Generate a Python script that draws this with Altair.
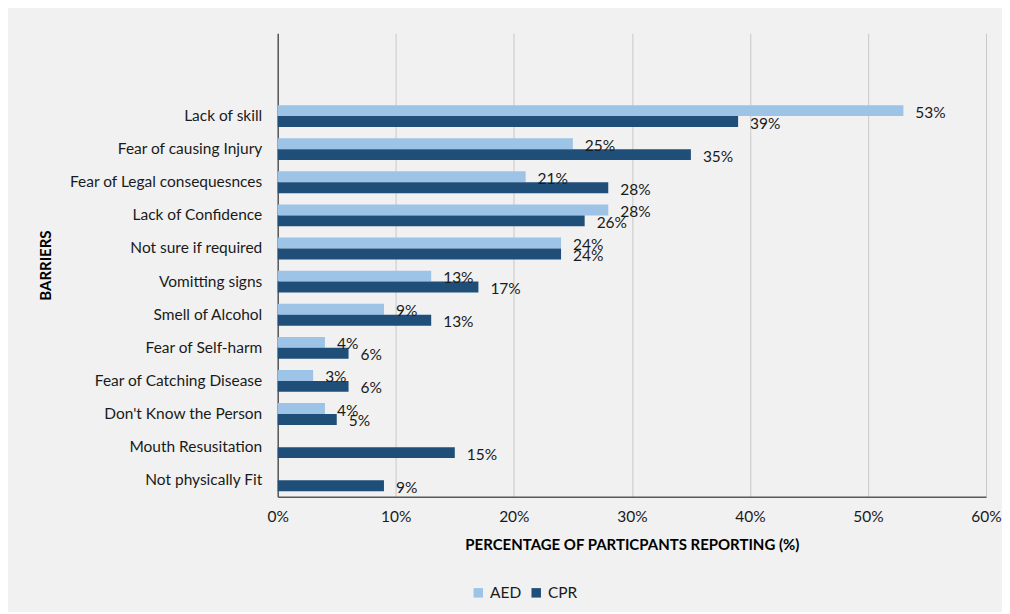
import altair as alt
import pandas as pd

categories = ["Lack of skill", "Fear of causing Injury", "Fear of Legal consequesnces",
              "Lack of Confidence", "Not sure if required", "Vomitting signs",
              "Smell of Alcohol", "Fear of Self-harm", "Fear of Catching Disease",
              "Don't Know the Person", "Mouth Resusitation", "Not physically Fit"]
aed = [53, 25, 21, 28, 24, 13, 9, 4, 3, 4, None, None]
cpr = [39, 35, 28, 26, 24, 17, 13, 6, 6, 5, 15, 9]
series = ["AED", "CPR"]
colors = ["#9DC3E6", "#1F4E79"]
x_ticks = [0, 0.1, 0.2, 0.3, 0.4, 0.5, 0.6]

rows = []
for c, a, p in zip(categories, aed, cpr):
    if a is not None:
        rows.append({"cat": c, "series": "AED", "v": a})
    rows.append({"cat": c, "series": "CPR", "v": p})
df = pd.DataFrame(rows)
df["pct"] = df["v"] / 100.0
df["label"] = df["v"].astype(int).astype(str) + "%"

FONT = "Lato"
FS = 15.5
domain = ["", " "] + categories

y_enc = alt.Y("cat:N",
              scale=alt.Scale(domain=domain, paddingInner=0.34, paddingOuter=0.17),
              axis=alt.Axis(title="BARRIERS", labelPadding=16, ticks=False,
                            domainColor="#595959", domainWidth=1.5, grid=False,
                            labelFontSize=FS, labelColor="#1a1a1a", labelLimit=300,
                            titleFontSize=15, titleFontWeight="bold", titleColor="#000000",
                            minExtent=210, maxExtent=210, titlePadding=14))
x_enc = alt.X("pct:Q",
              scale=alt.Scale(domain=[0, 0.6], nice=False),
              axis=alt.Axis(title="PERCENTAGE OF PARTICPANTS REPORTING (%)",
                            values=x_ticks, format=".0%", labelPadding=13, ticks=False,
                            labelFlush=False,
                            grid=True, gridColor="#c8c8c8", gridWidth=1,
                            domainColor="#595959", domainWidth=1.5,
                            labelFontSize=FS, labelColor="#1a1a1a",
                            titleFontSize=15, titleFontWeight="bold", titleColor="#000000",
                            titlePadding=12))
yoff = alt.YOffset("series:N", scale=alt.Scale(domain=series))
color = alt.Color("series:N",
                  scale=alt.Scale(domain=series, range=colors),
                  legend=alt.Legend(title=None, orient="none", direction="horizontal",
                                    legendX=193, legendY=552, symbolType="square",
                                    symbolSize=90, symbolStrokeWidth=0,
                                    labelFontSize=FS, labelColor="#1a1a1a",
                                    columnPadding=7, padding=0))

bars = alt.Chart(df).mark_bar().encode(y=y_enc, x=x_enc, yOffset=yoff, color=color)
text = alt.Chart(df).mark_text(align="left", baseline="middle", dx=12, dy=2,
                               fontSize=FS, color="#1a1a1a").encode(
    y=alt.Y("cat:N", scale=alt.Scale(domain=domain, paddingInner=0.34, paddingOuter=0.17)),
    x=alt.X("pct:Q"), yOffset=yoff, text="label:N")

chart = alt.layer(bars, text).properties(
    width=709, height=464,
    padding={"left": 31, "top": 25, "right": 0, "bottom": 10},
    background="#f1f1f1"
).configure(font=FONT).configure_view(stroke=None)

chart.save("out.html", embed_options={"renderer": "svg", "actions": False})
